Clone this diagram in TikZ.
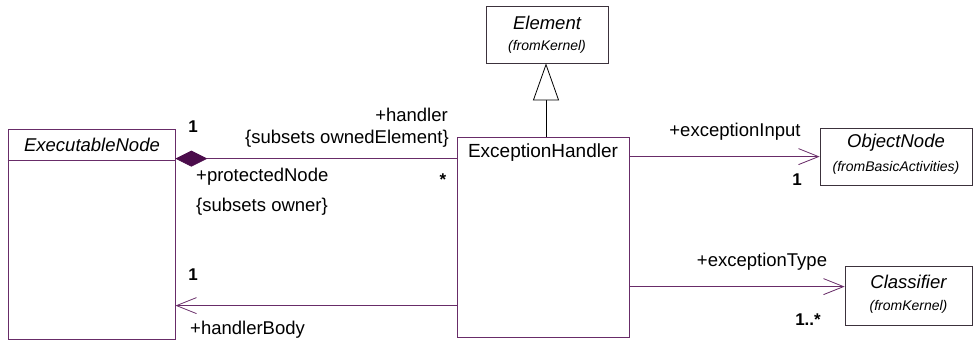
\documentclass[tikz,border=0pt]{standalone}
\usepackage{fontspec}
\setmainfont{Liberation Sans}
\usetikzlibrary{arrows.meta}
\definecolor{umlline}{RGB}{104,44,104}
\definecolor{umlfill}{RGB}{75,12,75}
\definecolor{umlgray}{RGB}{60,50,60}
\tikzset{
  cls/.style={draw=umlline, line width=0.8pt, rectangle, inner sep=0pt},
  gcls/.style={draw=umlgray, line width=0.8pt, rectangle, inner sep=0pt},
  lbl/.style={inner sep=0pt, font=\fontsize{18.5}{20}\selectfont},
  title/.style={inner sep=0pt, font=\fontsize{19}{21}\selectfont},
  ititle/.style={inner sep=0pt, font=\fontsize{18.5}{20}\selectfont\itshape},
  from/.style={inner sep=0pt, font=\fontsize{14}{16}\selectfont\itshape},
  mult/.style={inner sep=0pt, font=\fontsize{17}{19}\selectfont\bfseries},
  assoc/.style={draw=umlline, line width=0.8pt},
  navi/.style={-{Straight Barb[length=20pt,width=16pt,line width=0.8pt]}},
  comp/.style={-{Diamond[length=32pt,width=16pt,fill=umlfill,color=umlfill]}},
  gen/.style={draw=black, line width=0.8pt, -{Triangle[open,length=37pt,width=26pt,fill=white]}}
}
\begin{document}
\begin{tikzpicture}[x=1pt,y=-1pt]
\useasboundingbox (0,0) rectangle (979,341);
% boxes
\node[cls, minimum width=167pt, minimum height=210pt] (EN) at (91.5,234) {};
\draw[umlline, line width=0.8pt] ([yshift=-32pt]EN.north west) coordinate (sepL) -- ([yshift=-32pt]EN.north east) coordinate (sepR);
\node[ititle] (ENt) at (92,145) {ExecutableNode};

\node[cls, minimum width=172pt, minimum height=200pt] (EH) at (543,237) {};
\node[title] (EHt) at (543,153) {ExceptionHandler};

\node[gcls, minimum width=122pt, minimum height=57pt] (EL) at (547,34.5) {};
\node[ititle] (ELt) at (547,23) {Element};
\node[from] (ELf) at (547,47) {(fromKernel)};

\node[gcls, minimum width=152pt, minimum height=57pt] (ON) at (896,156.5) {};
\node[ititle] (ONt) at (896,143) {ObjectNode};
\node[from] (ONf) at (896,168) {(fromBasicActivities)};

\node[gcls, minimum width=127pt, minimum height=59pt] (CL) at (908.5,295.5) {};
\node[ititle] (CLt) at (908.5,282) {Classifier};
\node[from] (CLf) at (908.5,307) {(fromKernel)};

% generalization
\draw[gen] ([xshift=3pt]EH.north) -- ([xshift=-1pt]EL.south);

% composition
\draw[assoc, comp] ([yshift=-22pt]EH.north west) -- ([yshift=-30pt]EN.north east);
% handlerBody
\draw[assoc, navi] ([yshift=-169pt]EH.north west) -- ([yshift=-177pt]EN.north east);
% exceptionInput
\draw[assoc, navi] ([yshift=-20pt]EH.north east) -- ([yshift=-29pt]ON.north west);
% exceptionType
\draw[assoc, navi] ([yshift=-150pt]EH.north east) -- ([yshift=-21pt]CL.north west);

% labels
\node[mult] (m1) at (193,127) {1};
\node[lbl, anchor=east] (lh) at (448,115) {+handler};
\node[lbl, anchor=east] (lso) at (449,139) {\{subsets ownedElement\}};
\node[lbl, anchor=west] (lpn) at (196,177) {+protectedNode};
\node[lbl, anchor=west] (lsw) at (196,207) {\{subsets owner\}};
\node[mult] (ms) at (443,180) {*};
\node[mult] (m2) at (193,275) {1};
\node[lbl, anchor=west] (lhb) at (190,330) {+handlerBody};
\node[lbl] (lei) at (735,132) {+exceptionInput};
\node[mult] (m3) at (797,180) {1};
\node[lbl] (let) at (762,262) {+exceptionType};
\node[mult] (m4) at (808,320) {1..*};
\end{tikzpicture}
\end{document}
